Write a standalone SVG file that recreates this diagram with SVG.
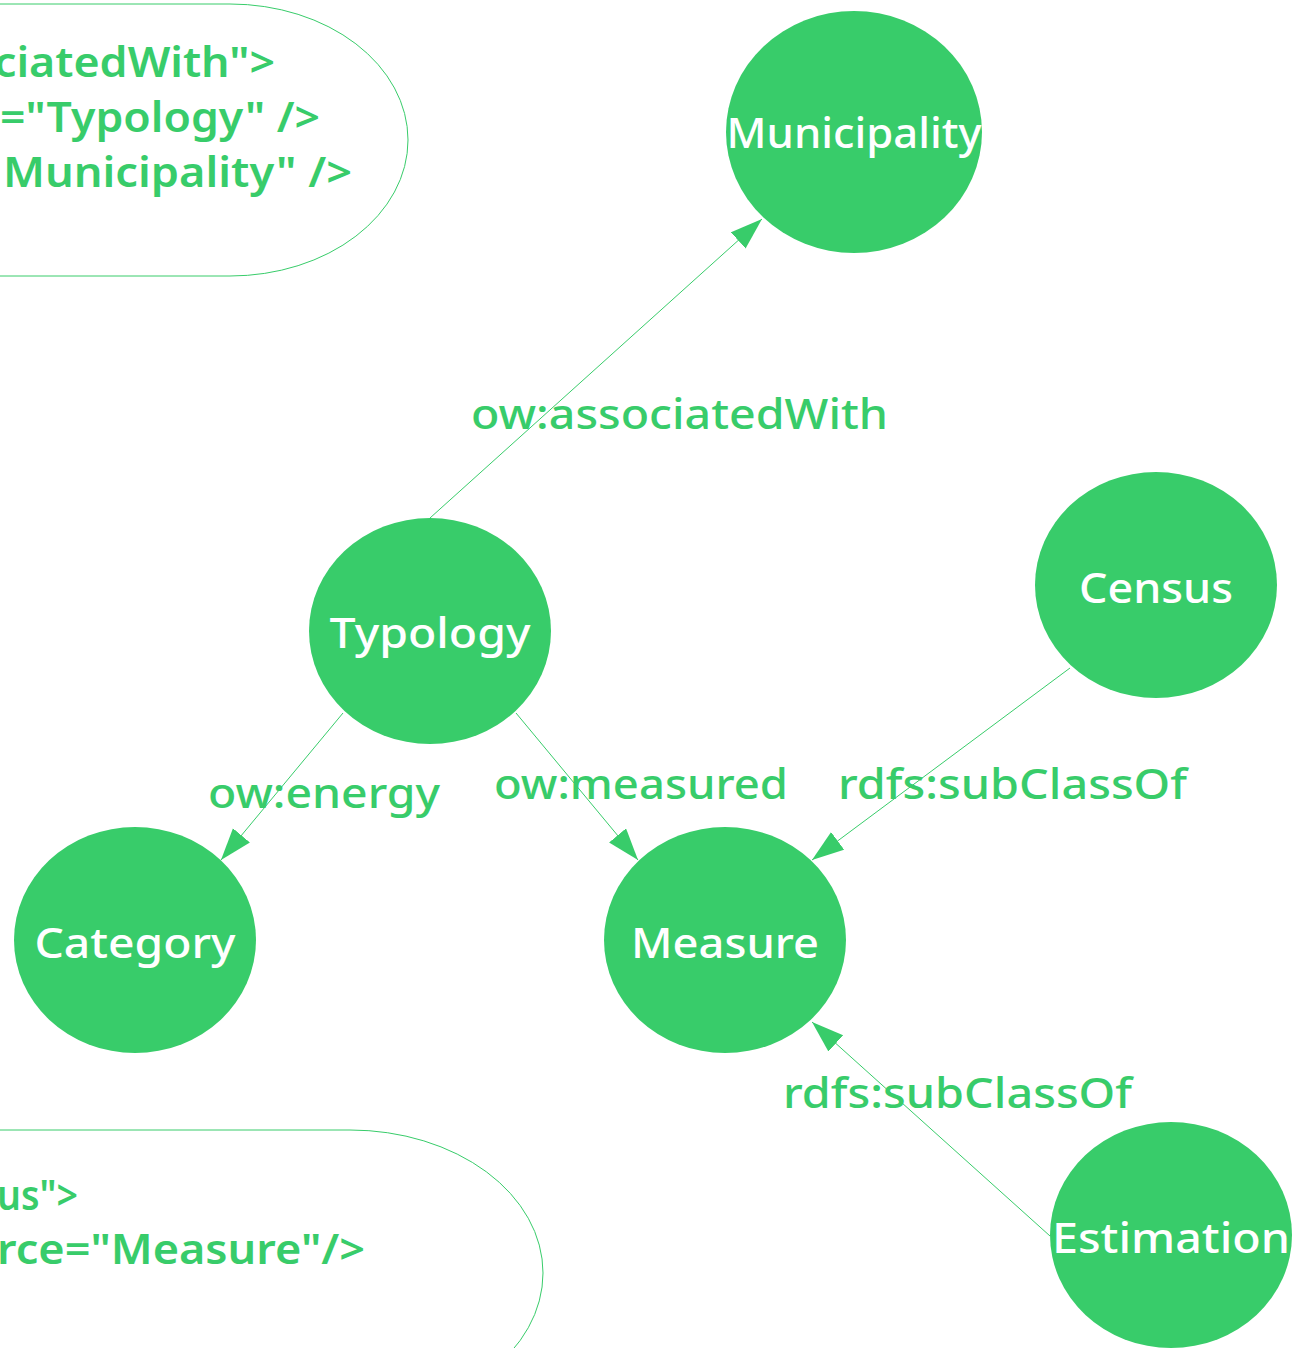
<svg xmlns="http://www.w3.org/2000/svg" width="1302" height="1348" viewBox="0 0 1302 1348">
<style>
.bg{fill:#ffffff}
.node{fill:#38cc6a}
.nlabel{fill:#ffffff;font-family:"Noto Sans","Open Sans",sans-serif;font-size:42px;font-weight:500;text-anchor:middle}
.elabel{fill:#38cc6a;font-family:"Noto Sans","Open Sans",sans-serif;font-size:42px;font-weight:500}
.callout{fill:#ffffff;stroke:#38cc6a;stroke-width:1}
.ctext{fill:#38cc6a;font-family:"Noto Sans","Open Sans",sans-serif;font-size:42px;font-weight:600}
.edge{stroke:#38cc6a;stroke-width:1;fill:none;marker-end:url(#arrow)}
</style>
<defs>
<marker id="arrow" markerUnits="userSpaceOnUse" markerWidth="34" markerHeight="24" refX="32" refY="11" orient="auto">
<path d="M0,0 L32,11 L0,22 z" fill="#38cc6a"/>
</marker>
</defs>
<rect class="bg" x="0" y="0" width="1302" height="1348"/>
<g id="callout-top">
<path class="callout" d="M -10,4 H 230 A 178 136 0 0 1 230 276 H -10 Z"/>
<text class="ctext" x="-6" y="77" textLength="281" lengthAdjust="spacingAndGlyphs">ciatedWith"&gt;</text>
<text class="ctext" x="0" y="132" textLength="320" lengthAdjust="spacingAndGlyphs">="Typology" /&gt;</text>
<text class="ctext" x="3" y="187" textLength="349" lengthAdjust="spacingAndGlyphs">Municipality" /&gt;</text>
</g>
<g id="callout-bottom">
<path class="callout" d="M -10,1130 H 350 A 193 143 0 0 1 350 1416 H -10 Z"/>
<text class="ctext" x="-3" y="1210" textLength="81" lengthAdjust="spacingAndGlyphs">us"&gt;</text>
<text class="ctext" x="-3" y="1264" textLength="368" lengthAdjust="spacingAndGlyphs">rce="Measure"/&gt;</text>
</g>
<g id="edges">
<line class="edge" x1="430" y1="518" x2="762" y2="219"/>
<line class="edge" x1="343" y1="713" x2="221" y2="860"/>
<line class="edge" x1="516" y1="713" x2="638" y2="860"/>
<line class="edge" x1="1070" y1="668" x2="812" y2="860"/>
<line class="edge" x1="1050" y1="1236" x2="812" y2="1022"/>
<text class="elabel" x="471" y="429" textLength="417" lengthAdjust="spacingAndGlyphs">ow:associatedWith</text>
<text class="elabel" x="208" y="808" textLength="232" lengthAdjust="spacingAndGlyphs">ow:energy</text>
<text class="elabel" x="494" y="799" textLength="294" lengthAdjust="spacingAndGlyphs">ow:measured</text>
<text class="elabel" x="838" y="799" textLength="349" lengthAdjust="spacingAndGlyphs">rdfs:subClassOf</text>
<text class="elabel" x="783" y="1108" textLength="349" lengthAdjust="spacingAndGlyphs">rdfs:subClassOf</text>
</g>
<g id="node-municipality">
<ellipse class="node" cx="854" cy="132" rx="128" ry="121"/>
<text class="nlabel" x="854" y="148" textLength="255" lengthAdjust="spacingAndGlyphs">Municipality</text>
</g>
<g id="node-typology">
<ellipse class="node" cx="430" cy="631" rx="121" ry="113"/>
<text class="nlabel" x="430" y="648" textLength="201" lengthAdjust="spacingAndGlyphs">Typology</text>
</g>
<g id="node-census">
<ellipse class="node" cx="1156" cy="585" rx="121" ry="113"/>
<text class="nlabel" x="1156" y="603" textLength="154" lengthAdjust="spacingAndGlyphs">Census</text>
</g>
<g id="node-category">
<ellipse class="node" cx="135" cy="940" rx="121" ry="113"/>
<text class="nlabel" x="135" y="958" textLength="201" lengthAdjust="spacingAndGlyphs">Category</text>
</g>
<g id="node-measure">
<ellipse class="node" cx="725" cy="940" rx="121" ry="113"/>
<text class="nlabel" x="725" y="958" textLength="188" lengthAdjust="spacingAndGlyphs">Measure</text>
</g>
<g id="node-estimation">
<ellipse class="node" cx="1171" cy="1235" rx="121" ry="113"/>
<text class="nlabel" x="1171" y="1253" textLength="238" lengthAdjust="spacingAndGlyphs">Estimation</text>
</g>
</svg>
